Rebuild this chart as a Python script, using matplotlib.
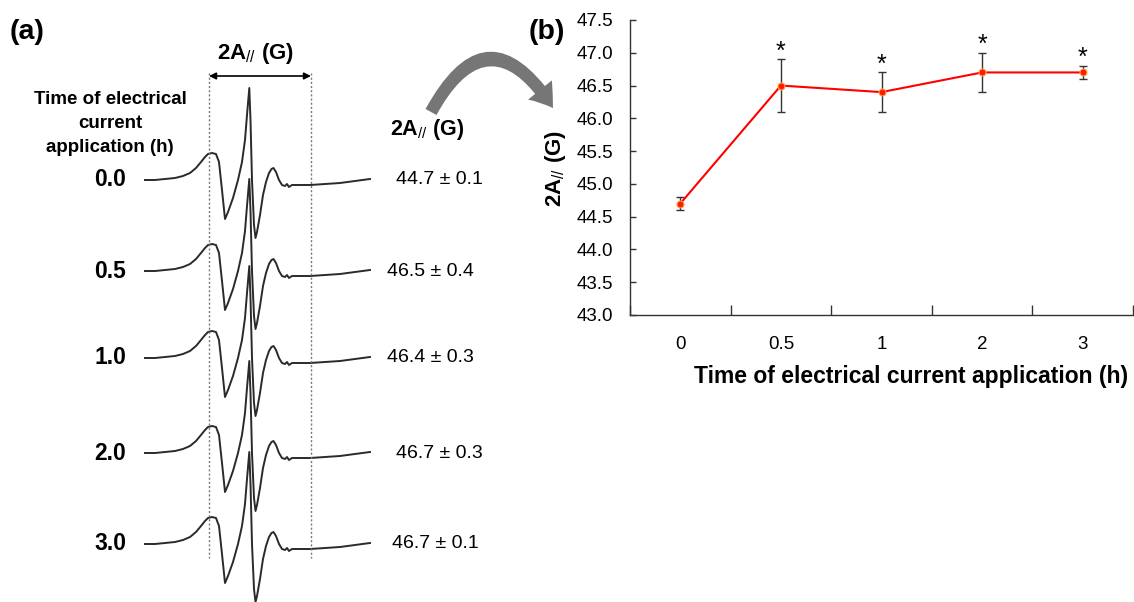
import matplotlib
matplotlib.use("Agg")
import matplotlib.pyplot as plt
from matplotlib.patches import FancyArrowPatch
from matplotlib.path import Path
from matplotlib.ticker import FixedLocator, FormatStrFormatter

plt.rcParams['font.family'] = ['Liberation Sans', 'DejaVu Sans']
plt.rcParams['mathtext.fontset'] = 'custom'
plt.rcParams['mathtext.rm'] = 'Liberation Sans'
plt.rcParams['mathtext.it'] = 'Liberation Sans'
plt.rcParams['mathtext.bf'] = 'Liberation Sans:bold'

# ---------------- data ----------------
times_h = ["0", "0.5", "1", "2", "3"]
trace_labels = ["0.0", "0.5", "1.0", "2.0", "3.0"]
a_par = [44.7, 46.5, 46.4, 46.7, 46.7]          # 2A// (G)
a_par_err = [0.1, 0.4, 0.3, 0.3, 0.1]
significant = [False, True, True, True, True]

# EPR spectrum shape (field in a.u., derivative signal in a.u.)
field_au = [0, 10, 20, 30, 38, 45, 51, 56, 60, 63, 67, 71, 74, 77, 80, 83, 88, 93,
            97, 100, 102, 104.3, 105.5, 107, 109, 110.5, 112, 115, 118, 121, 124,
            126.5, 128.5, 131, 134, 137, 140, 142, 144, 147, 155, 165, 180, 195,
            210, 225]
signal_au = [0, 0, 1, 2, 4, 7, 12, 18, 23, 26, 27, 26, 18, -10, -39, -32, -18, 0,
             18, 40, 65, 92, 60, 0, -45, -58, -52, -35, -15, -2, 7,
             11, 12, 8, 0, -5, -6, -4, -7, -5, -5, -5, -4, -3,
             -1, 1]
values_text = ["44.7 \u00b1 0.1", "46.5 \u00b1 0.4", "46.4 \u00b1 0.3",
               "46.7 \u00b1 0.3", "46.7 \u00b1 0.1"]

# ---------------- layout ----------------
W, H = 1134, 602
fig = plt.figure(figsize=(W / 100, H / 100), dpi=100)

# overlay axes in pixel units for panel (a)
ova = fig.add_axes([0, 0, 1, 1])
ova.set_xlim(0, W)
ova.set_ylim(H, 0)
ova.axis('off')

trace_x0 = 145
trace_baselines = [180, 271, 358, 453, 544]
value_x = [439, 430, 430, 439, 435]

for lab, y0, vt, vx in zip(trace_labels, trace_baselines, values_text, value_x):
    xs = [trace_x0 + f for f in field_au]
    ys = [y0 - s for s in signal_au]
    ova.plot(xs, ys, color='#2a2a2a', lw=1.4, solid_joinstyle='round')
    ova.text(110, y0, lab, ha='center', va='center', fontsize=16.5, fontweight='bold')
    ova.text(vx, y0, vt, ha='center', va='center', fontsize=14)

# dotted guides and double arrow
for gx in (209, 311):
    ova.plot([gx, gx], [73, 558], color='#777777', lw=1.0, ls=(0, (1.5, 1.5)))
ova.annotate('', xy=(311, 76), xytext=(209, 76),
             arrowprops=dict(arrowstyle='<|-|>', lw=1.2, color='black',
                             mutation_scale=10, shrinkA=0, shrinkB=0))
ova.text(256, 53, r'2A$_{//}$ (G)', ha='center', va='center', fontsize=16,
         fontweight='bold')

ova.text(110, 100, 'Time of electrical', ha='center', va='center', fontsize=13.5,
         fontweight='bold')
ova.text(110, 123, 'current', ha='center', va='center', fontsize=13.5,
         fontweight='bold')
ova.text(110, 147, 'application (h)', ha='center', va='center', fontsize=13.5,
         fontweight='bold')

ova.text(10, 32, '(a)', ha='left', va='center', fontsize=20.5, fontweight='bold')
ova.text(529, 32, '(b)', ha='left', va='center', fontsize=20.5, fontweight='bold')

# curved gray arrow
arc_path = Path([(431, 112), (488, 8), (553, 108)],
                [Path.MOVETO, Path.CURVE3, Path.CURVE3])
arr = FancyArrowPatch(path=arc_path,
                      arrowstyle='simple,head_length=0.8,head_width=1.1,tail_width=0.45',
                      mutation_scale=20, color='#767676', lw=0)
ova.add_patch(arr)
ova.text(427, 130, r'2A$_{//}$ (G)', ha='center', va='center', fontsize=15.5,
         fontweight='bold')

# ---------------- panel (b) ----------------
L, R, T, B = 630, 1133, 20, 315
ax = fig.add_axes([L / W, (H - B) / H, (R - L) / W, (B - T) / H])
xpos = list(range(len(times_h)))
ax.errorbar(xpos, a_par, yerr=a_par_err, fmt='none', ecolor='#333333',
            elinewidth=1.0, capsize=3, capthick=1.0, zorder=2)
ax.plot(xpos, a_par, color='#ff0000', lw=1.5, marker='o', markersize=5,
        markerfacecolor='#ff1a00', markeredgecolor='#ffa040', markeredgewidth=0.8,
        zorder=3)
for xp, v, e, s in zip(xpos, a_par, a_par_err, significant):
    if s:
        ax.annotate('*', (xp, v + e), xytext=(0, -3), textcoords='offset points',
                    ha='center', va='bottom', fontsize=18)

ax.set_xlim(-0.5, len(times_h) - 0.5)
ax.set_ylim(43.0, 47.5)
ax.yaxis.set_major_locator(FixedLocator([43.0 + 0.5 * i for i in range(10)]))
ax.yaxis.set_major_formatter(FormatStrFormatter('%.1f'))
ax.xaxis.set_major_locator(FixedLocator([i - 0.5 for i in range(len(times_h) + 1)]))
ax.set_xticklabels([''] * (len(times_h) + 1))
ax.set_xticks(xpos, minor=True)
ax.set_xticklabels(times_h, minor=True)
ax.tick_params(axis='x', which='major', direction='in', length=7, width=1,
               color='#333333')
ax.tick_params(axis='x', which='minor', length=0, pad=15, labelsize=13.5)
ax.tick_params(axis='y', direction='in', length=4.5, width=1, color='#333333',
               pad=12, labelsize=13.5)
for sp in ('top', 'right'):
    ax.spines[sp].set_visible(False)
for sp in ('left', 'bottom'):
    ax.spines[sp].set_color('#333333')
    ax.spines[sp].set_linewidth(1.0)

fig.text(555 / W, 1 - 168 / H, r'2A$_{//}$ (G)', rotation=90, ha='center', va='center',
         fontsize=16, fontweight='bold')
fig.text(911 / W, 1 - 376 / H, 'Time of electrical current application (h)',
         ha='center', va='center', fontsize=16.5, fontweight='bold')

fig.savefig('out.png', dpi=100)
